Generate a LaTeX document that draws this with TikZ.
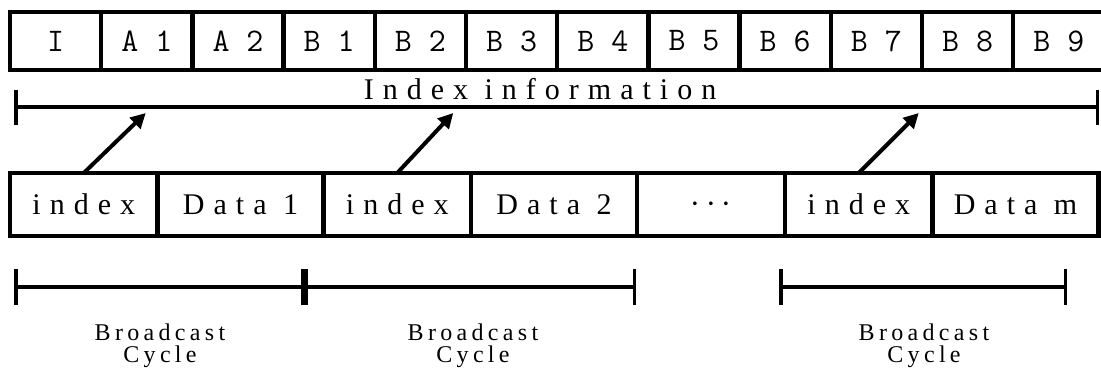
\documentclass[tikz,border=0pt]{standalone}
\usepackage{fontspec}
\setmainfont{Liberation Serif}
\newfontfamily\widefam[LetterSpace=30]{Liberation Serif}
\newfontfamily\cyclefam[LetterSpace=18]{Liberation Serif}
\usetikzlibrary{positioning,arrows.meta}

\tikzset{
  cell/.style={draw, line width=4.5pt, outer sep=0pt, inner sep=0pt,
    minimum width=91.2pt, minimum height=58pt,
    font=\ttfamily\fontsize{33}{34}\selectfont},
  slot/.style={draw, line width=4.5pt, outer sep=0pt, inner sep=0pt,
    minimum height=63pt, font=\widefam\fontsize{30}{32}\selectfont},
  link/.style={line width=4pt, -{Triangle[length=15pt,width=15pt]}},
  infobar/.style={line width=4pt, {Bar[width=35pt,line width=3.5pt]}-{Bar[width=35pt,line width=3.5pt]}},
  cyclebar/.style={line width=3.5pt, {Bar[width=36pt]}-{Bar[width=36pt]}},
  cyclelabel/.style={align=center, inner sep=0pt,
    font=\cyclefam\fontsize{24}{22}\selectfont},
}

\begin{document}
\begin{tikzpicture}[x=1pt,y=-1pt]
  \useasboundingbox (0,0) rectangle (1101,367);

  % index segment: one cell per bucket
  \node[cell] (c1) at (55.6,41) {I};
  \foreach \t [count=\i from 2, remember=\i as \j (initially 1)] in
      {A 1,A 2,B 1,B 2,B 3,B 4,B 5,B 6,B 7,B 8,B 9}
    \node[cell, right=0pt of c\j] (c\i) {\t};

  % span of the index information
  \coordinate (infoL) at (14,107);
  \coordinate (infoR) at (1099,107);
  \draw[infobar] (infoL) -- (infoR);
  \node[font=\widefam\fontsize{30}{32}\selectfont] (info) at (540,89) {Index information};

  % broadcast stream
  \node[slot, minimum width=147.5pt] (ix1) at (83.75,204.5) {index};
  \node[slot, minimum width=166pt, right=0pt of ix1] (d1) {Data 1};
  \node[slot, minimum width=147.5pt, right=0pt of d1] (ix2) {index};
  \node[slot, minimum width=166pt, right=0pt of ix2] (d2) {Data 2};
  \node[slot, minimum width=148pt, right=0pt of d2] (dots) {\scalebox{1.4}{$\cdots$}};
  \node[slot, minimum width=147.5pt, right=0pt of dots] (ix3) {index};
  \node[slot, minimum width=166pt, right=0pt of ix3] (dm) {Data m};

  \draw[link] (ix1.north) -- ++(62,-60);
  \draw[link] (ix2.north) -- ++(56,-60);
  \draw[link] (ix3.north) -- ++(60,-60);

  % broadcast cycles
  \coordinate (cy0) at (14,287);
  \coordinate (cy1) at (304,287);
  \coordinate (cy2) at (636,287);
  \coordinate (cy3) at (779,287);
  \coordinate (cy4) at (1067,287);
  \draw[cyclebar] (cy0) -- (cy1);
  \draw[cyclebar] (cy1) -- (cy2);
  \draw[cyclebar] (cy3) -- (cy4);
  \node[cyclelabel, anchor=north] (bc1) at (160,324) {Broadcast\\Cycle};
  \node[cyclelabel, anchor=north] (bc2) at (473,324) {Broadcast\\Cycle};
  \node[cyclelabel, anchor=north] (bc3) at (924,324) {Broadcast\\Cycle};
\end{tikzpicture}
\end{document}
